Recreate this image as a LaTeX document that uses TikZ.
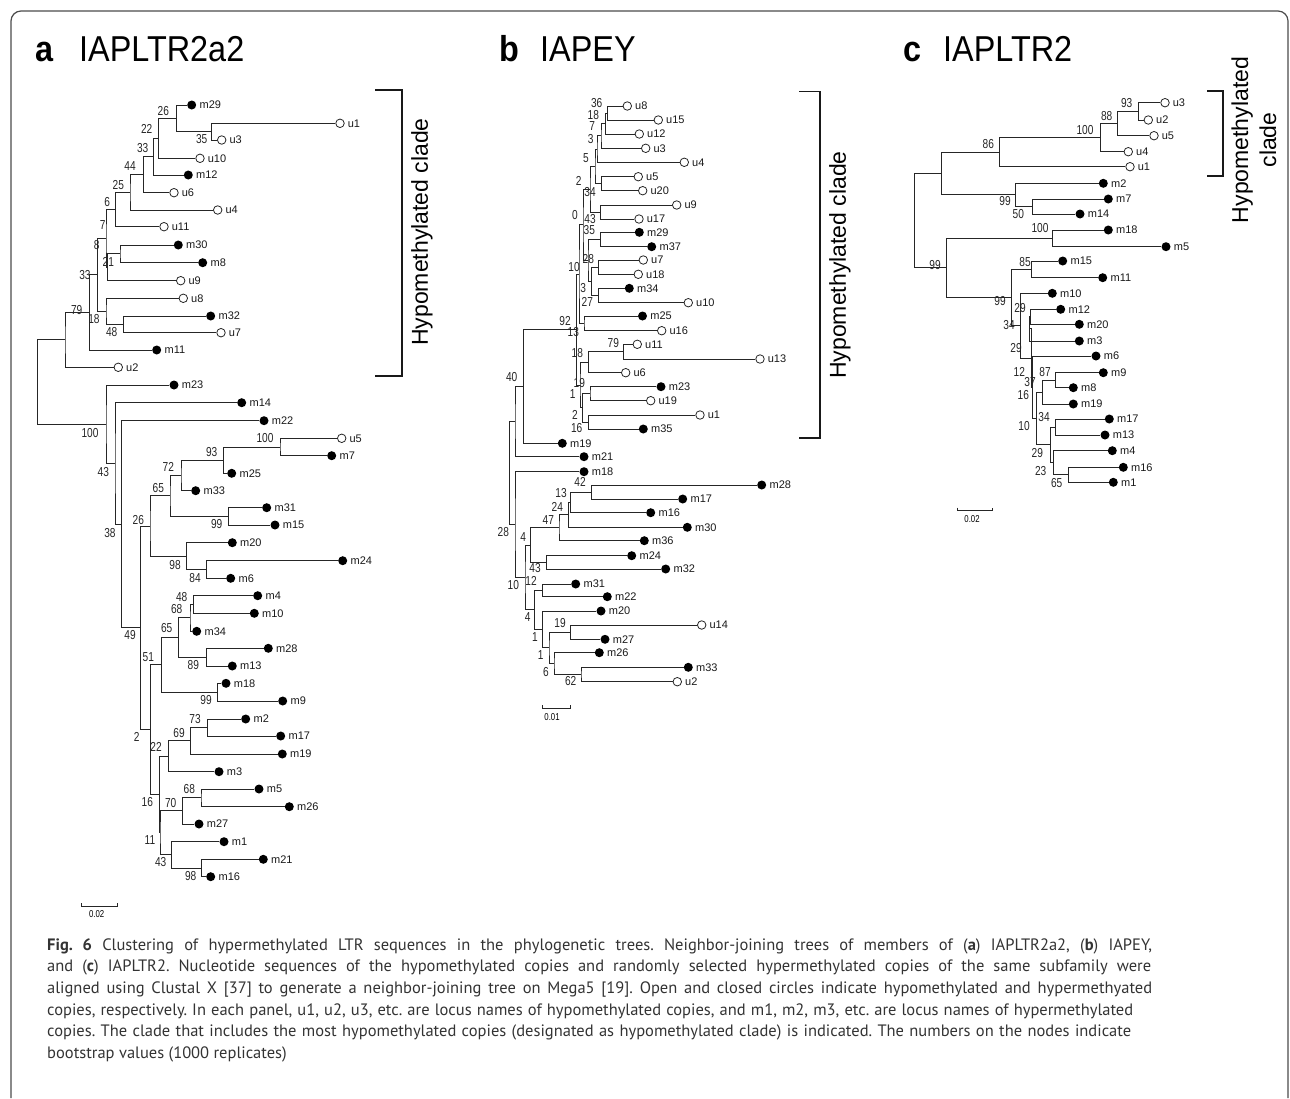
\documentclass[tikz,border=0pt]{standalone}
\usepackage{fontspec}
\setmainfont{PT Sans}
\newfontfamily\labfam{Liberation Sans}
\newfontfamily\bsfam[FakeStretch=0.78]{Liberation Sans}
\newfontfamily\ttlfam[FakeStretch=0.9]{Liberation Sans}
\usetikzlibrary{calc}
\frenchspacing
\newcommand\tn[4]{\path let \p1=(#3), \p2=(#4) in (#2pt,{(\y1+\y2)/2}) coordinate (#1);
  \draw[br] (#3) -| (#1) |- (#4);}
\newcommand\lf[5]{\node[#5] (#1) at (#2,#3) {}; \node[lbl] (#1t) at (#1.east) {#4};}
\newcommand\bl[4]{\node[bs] (#1) at (#2,#3) {#4};}
\tikzset{
  br/.style={draw=black!85, line width=0.9pt},
  hyo/.style={circle, draw=black!85, line width=0.8pt, fill=white, inner sep=0pt, minimum size=8.5pt},
  hyr/.style={circle, fill=black, inner sep=0pt, minimum size=9pt},
  lbl/.style={anchor=west, font=\labfam\fontsize{11}{13}\selectfont, inner sep=0pt, xshift=3pt, text=black!90},
  bs/.style={font=\bsfam\fontsize{13}{15}\selectfont, inner sep=0pt, text=black!85},
  ttl/.style={font=\ttlfam\fontsize{36}{40}\selectfont, anchor=base west, inner sep=0pt},
  brk/.style={draw=black!90, line width=1.5pt},
  clade/.style={font=\labfam\fontsize{23}{28}\selectfont, rotate=90, align=center, inner sep=0pt},
  sbar/.style={draw=black!85, line width=0.8pt},
  stxt/.style={font=\bsfam\fontsize{10}{12}\selectfont, inner sep=0pt},
  captxt/.style={anchor=base west, inner sep=0pt, font=\fontsize{16.5}{20}\selectfont, text=black!80},
}
\begin{document}
\begin{tikzpicture}[x=1pt,y=-1pt]
\useasboundingbox (0,0) rectangle (1290,1098);
\draw[draw=black!70, line width=1.2pt, rounded corners=10pt] (11,1098) -- (11,11) -- (1288,11) -- (1288,1098);
% titles
\node[ttl] (ta1) at (35,61) {\bfseries a};
\node[ttl] (ta2) at (79,61) {IAPLTR2a2};
\node[ttl] (tb1) at (499,61) {\bfseries b};
\node[ttl] (tb2) at (540,61) {IAPEY};
\node[ttl] (tc1) at (903,61) {\bfseries c};
\node[ttl] (tc2) at (943,61) {IAPLTR2};
% ---------------- panel a leaves
\lf{am29}{191.7}{105}{m29}{hyr}
\lf{au1}{340}{123.3}{u1}{hyo}
\lf{au3}{221.7}{140}{u3}{hyo}
\lf{au10}{200}{158.3}{u10}{hyo}
\lf{am12}{188.3}{175}{m12}{hyr}
\lf{au6}{174}{192.7}{u6}{hyo}
\lf{au4}{217.7}{210}{u4}{hyo}
\lf{au11}{164}{226.7}{u11}{hyo}
\lf{am30}{178.3}{245}{m30}{hyr}
\lf{am8}{202.7}{262.7}{m8}{hyr}
\lf{au9}{180.7}{280.7}{u9}{hyo}
\lf{au8}{183.3}{298.3}{u8}{hyo}
\lf{am32}{210.7}{316}{m32}{hyr}
\lf{au7}{221}{332.7}{u7}{hyo}
\lf{am11}{156.7}{350}{m11}{hyr}
\lf{au2}{118.3}{367.3}{u2}{hyo}
\lf{am23}{174}{385}{m23}{hyr}
\lf{am14}{241.7}{402.7}{m14}{hyr}
\lf{am22}{264}{420.7}{m22}{hyr}
\lf{au5}{341.7}{438.3}{u5}{hyo}
\lf{am7}{331.7}{455.7}{m7}{hyr}
\lf{am25}{231.7}{473.3}{m25}{hyr}
\lf{am33}{195.7}{490.7}{m33}{hyr}
\lf{am31}{266.7}{507.7}{m31}{hyr}
\lf{am15}{275}{525}{m15}{hyr}
\lf{am20}{232.3}{542.7}{m20}{hyr}
\lf{am24}{342.7}{560.7}{m24}{hyr}
\lf{am6}{230.7}{578.3}{m6}{hyr}
\lf{am4}{257.7}{595.7}{m4}{hyr}
\lf{am10}{254.3}{613.3}{m10}{hyr}
\lf{am34}{196.7}{631.3}{m34}{hyr}
\lf{am28}{268.3}{648.3}{m28}{hyr}
\lf{am13}{232.3}{666}{m13}{hyr}
\lf{am18}{226}{683.3}{m18}{hyr}
\lf{am9}{282.7}{701}{m9}{hyr}
\lf{am2}{245.7}{719}{m2}{hyr}
\lf{am17}{280.7}{736}{m17}{hyr}
\lf{am19}{282.3}{754}{m19}{hyr}
\lf{am3}{219}{771.7}{m3}{hyr}
\lf{am5}{259}{789}{m5}{hyr}
\lf{am26}{289.3}{806.7}{m26}{hyr}
\lf{am27}{199}{824}{m27}{hyr}
\lf{am1}{224}{841.7}{m1}{hyr}
\lf{am21}{263.3}{859.3}{m21}{hyr}
\lf{am16}{210.7}{876.7}{m16}{hyr}
% panel a internal
\tn{a35}{211.7}{au1}{au3}
\tn{a26}{176.7}{am29}{a35}
\tn{a22}{158.3}{a26}{au10}
\tn{a33b}{153.3}{a22}{am12}
\tn{a44}{143.3}{a33b}{au6}
\tn{a25}{130}{a44}{au4}
\tn{a6}{115.7}{a25}{au11}
\tn{a21}{120}{am30}{am8}
\tn{aB}{107.3}{a21}{au9}
\tn{aA}{106}{a6}{aB}
\tn{a48}{123.3}{am32}{au7}
\tn{aC}{106}{au8}{a48}
\tn{a18}{97.3}{aA}{aC}
\tn{a33a}{89.3}{a18}{am11}
\tn{a79}{65}{a33a}{au2}
\tn{a100b}{280}{au5}{am7}
\tn{a93}{223.3}{a100b}{am25}
\tn{a72}{181}{a93}{am33}
\tn{a99}{228.3}{am31}{am15}
\tn{a65}{170}{a72}{a99}
\tn{a84}{206.7}{am24}{am6}
\tn{a98}{186.7}{am20}{a84}
\tn{a26b}{150}{a65}{a98}
\tn{a48b}{193.3}{am4}{am10}
\tn{a68}{190}{a48b}{am34}
\tn{a89}{206.7}{am28}{am13}
\tn{a65c}{178.3}{a68}{a89}
\tn{a99b}{217.7}{am18}{am9}
\tn{a51}{161.7}{a65c}{a99b}
\tn{a73}{207.3}{am2}{am17}
\tn{a69}{190.7}{a73}{am19}
\tn{a22b}{168.3}{a69}{am3}
\tn{a68b}{201}{am5}{am26}
\tn{a70}{182.3}{a68b}{am27}
\tn{a98b}{201.7}{am21}{am16}
\tn{a43b}{171.7}{am1}{a98b}
\tn{a11}{160}{a70}{a43b}
\tn{a16}{159.3}{a22b}{a11}
\tn{a2}{150.7}{a51}{a16}
\tn{a49}{140.7}{a26b}{a2}
\tn{a38}{121.7}{am22}{a49}
\tn{a43}{115}{am14}{a38}
\tn{a100}{106}{am23}{a43}
\tn{aroot}{37.3}{a79}{a100}
% panel a bootstrap
\bl{la1}{163.3}{110.7}{26}
\bl{la2}{201.7}{139.3}{35}
\bl{la3}{146.7}{129.3}{22}
\bl{la4}{142.7}{148.3}{33}
\bl{la5}{130}{166}{44}
\bl{la6}{118.3}{185}{25}
\bl{la7}{107.3}{201.7}{6}
\bl{la8}{102.7}{225}{7}
\bl{la9}{96.7}{245}{8}
\bl{la10}{108.3}{261.7}{21}
\bl{la11}{85}{275}{33}
\bl{la12}{76.7}{310}{79}
\bl{la13}{94}{319.3}{18}
\bl{la14}{111.7}{331.7}{48}
\bl{la15}{90}{432.7}{100}
\bl{la16}{103.3}{471.7}{43}
\bl{la17}{110}{532.7}{38}
\bl{la18}{265}{438.3}{100}
\bl{la19}{211.7}{451.7}{93}
\bl{la20}{168.3}{466.7}{72}
\bl{la21}{158.3}{488.3}{65}
\bl{la22}{138.3}{520}{26}
\bl{la23}{216.7}{524}{99}
\bl{la24}{175}{565}{98}
\bl{la25}{195}{578.3}{84}
\bl{la26}{181.7}{596.7}{48}
\bl{la27}{176.7}{609.3}{68}
\bl{la28}{166.7}{628.3}{65}
\bl{la29}{130}{635}{49}
\bl{la30}{148.3}{656.7}{51}
\bl{la31}{193.3}{665}{89}
\bl{la32}{206}{700}{99}
\bl{la33}{136.7}{736.7}{2}
\bl{la34}{195}{719.3}{73}
\bl{la35}{179}{733.3}{69}
\bl{la36}{156}{747.3}{22}
\bl{la37}{189.3}{789.3}{68}
\bl{la38}{147.3}{801.7}{16}
\bl{la39}{170.7}{802.7}{70}
\bl{la40}{150}{840}{11}
\bl{la41}{160.7}{862.3}{43}
\bl{la42}{190.7}{876}{98}
% scale a
\draw[sbar] (81.7,903) -- (81.7,906) -- (117.3,906) -- (117.3,903);
\node[stxt] (sa) at (96.7,914) {0.02};
% bracket a
\draw[brk] (375,90) -- (402,90) -- (402,376) -- (375,376);
\node[clade] (ha) at (422,232) {Hypomethylated clade};
% ---------------- panel b leaves
\lf{bu8}{627.3}{106}{u8}{hyo}
\lf{bu15}{658.3}{120}{u15}{hyo}
\lf{bu12}{639.3}{134}{u12}{hyo}
\lf{bu3}{645.7}{148.3}{u3}{hyo}
\lf{bu4}{684.3}{162.3}{u4}{hyo}
\lf{bu5}{638.3}{176.7}{u5}{hyo}
\lf{bu20}{642.7}{190.7}{u20}{hyo}
\lf{bu9}{676.7}{205}{u9}{hyo}
\lf{bu17}{639}{219}{u17}{hyo}
\lf{bm29}{639.3}{232.3}{m29}{hyr}
\lf{bm37}{651.7}{246.7}{m37}{hyr}
\lf{bu7}{643.3}{260}{u7}{hyo}
\lf{bu18}{638.3}{274.3}{u18}{hyo}
\lf{bm34}{629.3}{288.3}{m34}{hyr}
\lf{bu10}{688.3}{302.7}{u10}{hyo}
\lf{bm25}{642.5}{316}{m25}{hyr}
\lf{bu16}{661.7}{330.7}{u16}{hyo}
\lf{bu11}{637.3}{344.3}{u11}{hyo}
\lf{bu13}{760}{359}{u13}{hyo}
\lf{bu6}{625.7}{372.7}{u6}{hyo}
\lf{bm23}{661}{386.7}{m23}{hyr}
\lf{bu19}{650.7}{400.7}{u19}{hyo}
\lf{bu1}{700}{415}{u1}{hyo}
\lf{bm35}{643.3}{429}{m35}{hyr}
\lf{bm19}{562.3}{443.3}{m19}{hyr}
\lf{bm21}{584}{456.7}{m21}{hyr}
\lf{bm18}{584}{471.7}{m18}{hyr}
\lf{bm28}{761.7}{485}{m28}{hyr}
\lf{bm17}{682.7}{499}{m17}{hyr}
\lf{bm16}{650.7}{512.7}{m16}{hyr}
\lf{bm30}{687.3}{527.3}{m30}{hyr}
\lf{bm36}{644.3}{540.7}{m36}{hyr}
\lf{bm24}{631.7}{555.7}{m24}{hyr}
\lf{bm32}{665.7}{569}{m32}{hyr}
\lf{bm31}{575.7}{584}{m31}{hyr}
\lf{bm22}{607.3}{596.7}{m22}{hyr}
\lf{bm20}{601}{611}{m20}{hyr}
\lf{bu14}{701.7}{625}{u14}{hyo}
\lf{bm27}{605}{639.3}{m27}{hyr}
\lf{bm26}{599.3}{652.7}{m26}{hyr}
\lf{bm33}{688.3}{667.3}{m33}{hyr}
\lf{bu2}{677.3}{681.7}{u2}{hyo}
% panel b internal
\tn{b36}{607.7}{bu8}{bu15}
\tn{b18}{605.3}{b36}{bu12}
\tn{b7}{601}{b18}{bu3}
\tn{b3}{597}{b7}{bu4}
\tn{bc1}{601.7}{bu5}{bu20}
\tn{b5}{595}{b3}{bc1}
\tn{bc2}{600.7}{bu9}{bu17}
\tn{b34}{590}{b5}{bc2}
\tn{bc3}{600.7}{bm29}{bm37}
\tn{bc4}{598.3}{bu7}{bu18}
\tn{bc5}{598.3}{bm34}{bu10}
\tn{b3b}{591.7}{bc4}{bc5}
\tn{b28}{588}{bc3}{b3b}
\tn{b0}{583}{b34}{b28}
\tn{bc6}{584}{bm25}{bu16}
\tn{b10}{579}{b0}{bc6}
\tn{b79}{623.3}{bu11}{bu13}
\tn{b18b}{588.3}{b79}{bu6}
\tn{bc7}{590}{bm23}{bu19}
\tn{bc8}{588.3}{bu1}{bm35}
\tn{b2b}{582.7}{bc7}{bc8}
\tn{b1}{580}{b18b}{b2b}
\tn{b92}{576.7}{b10}{b1}
\tn{b40}{523.3}{b92}{bm19}
\tn{b21}{515}{b40}{bm21}
\tn{b42}{591.7}{bm28}{bm17}
\tn{b13}{570.7}{b42}{bm16}
\tn{b24}{568.3}{b13}{bm30}
\tn{b47}{559}{b24}{bm36}
\tn{b43}{546.7}{bm24}{bm32}
\tn{b4a}{530.7}{b47}{b43}
\tn{b12}{542.7}{bm31}{bm22}
\tn{b19}{570.7}{bu14}{bm27}
\tn{b62}{581}{bm33}{bu2}
\tn{b6}{554}{bm26}{b62}
\tn{b1b}{549}{b19}{b6}
\tn{b1a}{542.7}{bm20}{b1b}
\tn{b4b}{534.3}{b12}{b1a}
\tn{b10b}{525}{b4a}{b4b}
\tn{blow}{515}{bm18}{b10b}
\tn{broot}{509.3}{b21}{blow}
% panel b bootstrap
\bl{lb1}{596.7}{102.7}{36}
\bl{lb2}{593.3}{115}{18}
\bl{lb3}{592.3}{125.7}{7}
\bl{lb4}{590.7}{139.3}{3}
\bl{lb5}{586}{157.7}{5}
\bl{lb6}{578.7}{180.7}{2}
\bl{lb7}{590}{192.3}{34}
\bl{lb8}{575}{215}{0}
\bl{lb9}{590}{219}{43}
\bl{lb10}{589.3}{230}{35}
\bl{lb11}{588.3}{259.3}{28}
\bl{lb12}{574}{266.7}{10}
\bl{lb13}{583.3}{288.3}{3}
\bl{lb14}{587.3}{301.7}{27}
\bl{lb15}{565}{320.7}{92}
\bl{lb16}{573.3}{331.7}{13}
\bl{lb17}{613.3}{342.7}{79}
\bl{lb18}{577.3}{353.3}{18}
\bl{lb19}{511.7}{376.7}{40}
\bl{lb20}{579.3}{383.3}{19}
\bl{lb21}{572.7}{394}{1}
\bl{lb22}{575}{415}{2}
\bl{lb23}{576.7}{428.3}{16}
\bl{lb24}{580}{482.3}{42}
\bl{lb25}{561}{493.3}{13}
\bl{lb26}{557.3}{506.7}{24}
\bl{lb27}{548.3}{520}{47}
\bl{lb28}{503.3}{531.7}{28}
\bl{lb29}{523.3}{537.3}{4}
\bl{lb30}{535}{568.3}{43}
\bl{lb31}{531}{581}{12}
\bl{lb32}{513.3}{585}{10}
\bl{lb33}{527.7}{616.7}{4}
\bl{lb34}{560}{623.3}{19}
\bl{lb35}{535}{636.7}{1}
\bl{lb36}{540.7}{655}{1}
\bl{lb37}{546}{671.7}{6}
\bl{lb38}{570.7}{680.7}{62}
% scale b
\draw[sbar] (542.7,705.3) -- (542.7,708.3) -- (570,708.3) -- (570,705.3);
\node[stxt] (sb) at (552,717) {0.01};
% bracket b
\draw[brk] (799,91.7) -- (820,91.7) -- (820,438) -- (799,438);
\node[clade] (hb) at (840,265) {Hypomethylated clade};
% ---------------- panel c leaves
\lf{cu3}{1165}{102.7}{u3}{hyo}
\lf{cu2}{1148.3}{120}{u2}{hyo}
\lf{cu5}{1154}{135.7}{u5}{hyo}
\lf{cu4}{1128.3}{151.7}{u4}{hyo}
\lf{cu1}{1130}{166.7}{u1}{hyo}
\lf{cm2}{1103.3}{183.3}{m2}{hyr}
\lf{cm7}{1108.3}{199}{m7}{hyr}
\lf{cm14}{1080}{214}{m14}{hyr}
\lf{cm18}{1108.3}{230}{m18}{hyr}
\lf{cm5}{1166}{246.7}{m5}{hyr}
\lf{cm15}{1062.7}{261}{m15}{hyr}
\lf{cm11}{1102.7}{277.7}{m11}{hyr}
\lf{cm10}{1052.3}{293.3}{m10}{hyr}
\lf{cm12}{1060.7}{309.3}{m12}{hyr}
\lf{cm20}{1079.3}{324.3}{m20}{hyr}
\lf{cm3}{1079.3}{341}{m3}{hyr}
\lf{cm6}{1096}{356}{m6}{hyr}
\lf{cm9}{1103.3}{372.7}{m9}{hyr}
\lf{cm8}{1073.3}{387.7}{m8}{hyr}
\lf{cm19}{1073.3}{404}{m19}{hyr}
\lf{cm17}{1109.3}{419}{m17}{hyr}
\lf{cm13}{1105}{435}{m13}{hyr}
\lf{cm4}{1112.3}{450.7}{m4}{hyr}
\lf{cm16}{1123.3}{467.3}{m16}{hyr}
\lf{cm1}{1113.3}{482.3}{m1}{hyr}
% panel c internal
\tn{c93}{1138.3}{cu3}{cu2}
\tn{c88}{1117.3}{c93}{cu5}
\tn{c100}{1100}{c88}{cu4}
\tn{c86}{999.3}{c100}{cu1}
\tn{c50}{1032.3}{cm7}{cm14}
\tn{c99a}{1015.7}{cm2}{c50}
\tn{ctop}{941.7}{c86}{c99a}
\tn{c100d}{1052.3}{cm18}{cm5}
\tn{c85}{1031.7}{cm15}{cm11}
\tn{cn1220}{1030.7}{cm12}{cm20}
\tn{c29a}{1029.3}{cn1220}{cm3}
\tn{c87}{1055.7}{cm9}{cm8}
\tn{c37}{1042.3}{c87}{cm19}
\tn{cc17}{1055.7}{cm17}{cm13}
\tn{c65}{1068.3}{cm16}{cm1}
\tn{c23}{1053.3}{cm4}{c65}
\tn{c29b}{1050.7}{cc17}{c23}
\tn{c34}{1036}{c37}{c29b}
\tn{c16}{1032.3}{cm6}{c34}
\tn{c12}{1031.7}{c29a}{c16}
\tn{c10}{1020.7}{cm10}{c12}
\tn{c99c}{1011.7}{c85}{c10}
\tn{c99b}{946.7}{c100d}{c99c}
\tn{croot}{914.3}{ctop}{c99b}
% panel c bootstrap
\bl{lc1}{1126.7}{102.7}{93}
\bl{lc2}{1106.7}{116}{88}
\bl{lc3}{1085}{130}{100}
\bl{lc4}{988.3}{144}{86}
\bl{lc5}{1005}{200.7}{99}
\bl{lc6}{1018.3}{214}{50}
\bl{lc7}{1040}{228.3}{100}
\bl{lc8}{1025}{261.7}{85}
\bl{lc9}{935}{265}{99}
\bl{lc10}{1000}{300.7}{99}
\bl{lc11}{1020}{308.3}{29}
\bl{lc12}{1009}{325}{34}
\bl{lc13}{1016}{348.3}{29}
\bl{lc14}{1019.3}{371.7}{12}
\bl{lc15}{1045}{371.7}{87}
\bl{lc16}{1030}{381.7}{37}
\bl{lc17}{1023.3}{395}{16}
\bl{lc18}{1044}{417.3}{34}
\bl{lc19}{1024}{426}{10}
\bl{lc20}{1037.3}{452.7}{29}
\bl{lc21}{1040.7}{470.7}{23}
\bl{lc22}{1056.7}{482.7}{65}
% scale c
\draw[sbar] (957.3,507.7) -- (957.3,510.7) -- (992.7,510.7) -- (992.7,507.7);
\node[stxt] (sc) at (972,519.3) {0.02};
% bracket c
\draw[brk] (1207,91) -- (1223,91) -- (1223,176) -- (1207,176);
\node[clade] (hc) at (1254,140) {Hypomethylated\\clade};
% caption
\node[captxt] (cap1) at (47,950) {\makebox[1105pt][s]{\textbf{Fig. 6} Clustering of hypermethylated LTR sequences in the phylogenetic trees. Neighbor-joining trees of members of (\textbf{a}) IAPLTR2a2, (\textbf{b}) IAPEY,}};
\node[captxt] (cap2) at (47,971.7) {\makebox[1104pt][s]{and (\textbf{c}) IAPLTR2. Nucleotide sequences of the hypomethylated copies and randomly selected hypermethylated copies of the same subfamily were}};
\node[captxt] (cap3) at (47,993.3) {\makebox[1105pt][s]{aligned using Clustal X [37] to generate a neighbor-joining tree on Mega5 [19]. Open and closed circles indicate hypomethylated and hypermethyated}};
\node[captxt] (cap4) at (47,1015) {\makebox[1086pt][s]{copies, respectively. In each panel, u1, u2, u3, etc. are locus names of hypomethylated copies, and m1, m2, m3, etc. are locus names of hypermethylated}};
\node[captxt] (cap5) at (47,1036.7) {\makebox[1084pt][s]{copies. The clade that includes the most hypomethylated copies (designated as hypomethylated clade) is indicated. The numbers on the nodes indicate}};
\node[captxt] (cap6) at (47,1058.3) {bootstrap values (1000 replicates)};
\end{tikzpicture}
\end{document}
